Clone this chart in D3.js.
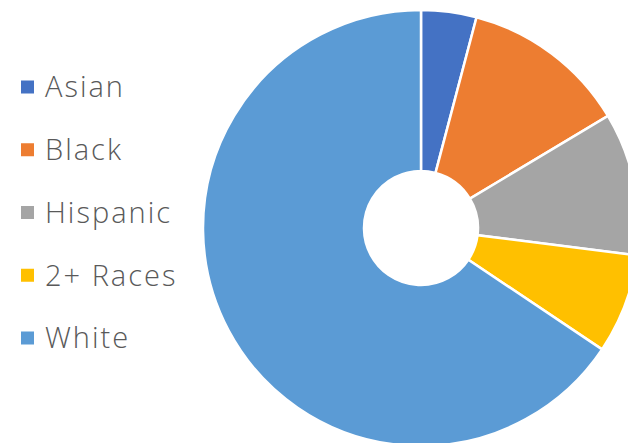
<!DOCTYPE html>
<html><head><meta charset="utf-8">
<script src="https://cdn.jsdelivr.net/npm/d3@7"></script>
<style>body{margin:0;background:#fff;}svg{display:block;}</style>
</head><body>
<script>
const categories = ["Asian","Black","Hispanic","2+ Races","White"];
const values = [4.1, 12.3, 10.6, 7.4, 65.6];
const colors = ["#4472C4","#ED7D31","#A5A5A5","#FFC000","#5B9BD5"];

const W = 628, H = 443;
const svg = d3.select("body").append("svg").attr("width", W).attr("height", H);
const cx = 421, cy = 228, rOuter = 218, rInner = 57;

const pie = d3.pie().sort(null).value(d => d)(values);
const arc = d3.arc().innerRadius(rInner).outerRadius(rOuter);
const color = d3.scaleOrdinal().domain(categories).range(colors);

svg.append("g").attr("transform", `translate(${cx},${cy})`)
  .selectAll("path").data(pie).join("path")
  .attr("d", arc)
  .attr("fill", (d,i) => color(categories[i]))
  .attr("stroke", "#fff").attr("stroke-width", 2.5).attr("stroke-linejoin","miter");

const ly = d3.scalePoint().domain(categories).range([87, 338]);
const lg = svg.append("g").selectAll("g").data(categories).join("g")
  .attr("transform", d => `translate(0,${ly(d)})`);
lg.append("rect").attr("x", 21).attr("y", -6.5).attr("width", 13).attr("height", 13)
  .attr("fill", d => color(d));
lg.append("text").attr("x", 45).attr("y", 0).attr("dy", "0.36em")
  .attr("font-family", "'Open Sans', sans-serif").attr("font-size", 29).attr("font-weight", 300)
  .attr("letter-spacing", 2)
  .attr("fill", "#595959").text(d => d);
</script>
</body></html>
